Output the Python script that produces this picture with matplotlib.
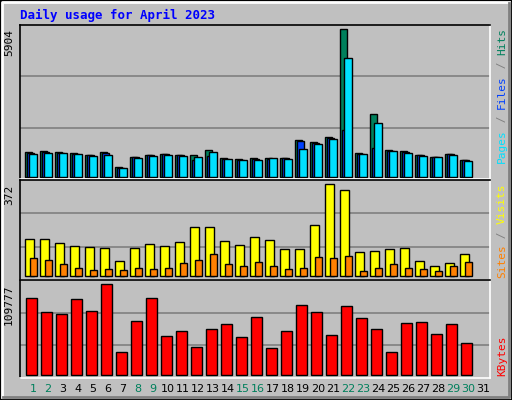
import matplotlib
matplotlib.use("Agg")
import matplotlib.pyplot as plt
import numpy as np
from matplotlib.patches import Rectangle

# ── data ──────────────────────────────────────────────────────────────────────
days = list(range(1, 31))
hits = [975, 1015, 975, 935, 868, 975, 374, 788, 868, 908, 868, 868, 1055, 735, 695,
        735, 735, 735, 1456, 1376, 1590, 5904, 935, 2498, 1055, 1015, 868, 788, 908, 668]
files = [955, 995, 965, 925, 858, 935, 364, 778, 858, 898, 858, 660, 828, 725, 685,
         725, 715, 735, 1416, 1336, 1560, 1870, 925, 1149, 1045, 1005, 858, 778, 898, 658]
pages = [895, 935, 935, 895, 828, 868, 334, 735, 828, 868, 828, 788, 975, 695, 655,
         655, 735, 695, 1095, 1296, 1496, 4743, 895, 2138, 1015, 935, 828, 788, 868, 615]
visits = [150, 150, 133, 121, 117, 113, 61, 113, 129, 121, 137, 198, 198, 142, 125,
          158, 146, 109, 109, 206, 372, 348, 97, 101, 109, 113, 61, 40, 53, 89]
sites = [73, 65, 49, 32, 24, 28, 24, 32, 28, 32, 53, 65, 89, 49, 40,
         57, 40, 28, 32, 77, 73, 81, 20, 32, 49, 32, 28, 20, 40, 57]
kbytes = [92890, 76000, 73580, 91680, 77200, 109777, 27740, 65140, 92890, 47050,
          53080, 33780, 55490, 61520, 45840, 69970, 32570, 53080, 84440, 76000,
          48250, 83230, 68760, 55490, 27740, 62730, 63930, 49460, 61520, 38600]
weekend = {1, 2, 8, 9, 15, 16, 22, 23, 29, 30}

W, H = 512, 400
BG = "#C0C0C0"
GREEN, BLUE, CYAN = "#00805C", "#0040FF", "#00E0FF"
YELLOW, ORANGE, RED = "#FFFF00", "#FF8000", "#FF0000"

fig = plt.figure(figsize=(W / 100, H / 100), dpi=100)
fig.patch.set_facecolor(BG)

# beveled border
def fpx(x, y):
    return x / W, 1 - y / H
fig.add_artist(Rectangle((0, 0), 1, 1, transform=fig.transFigure, fill=False,
                         edgecolor="black", lw=2))
fig.add_artist(plt.Line2D([2 / W, 2 / W, 1 - 3 / W], [3 / H, 1 - 2 / H, 1 - 2 / H],
                          transform=fig.transFigure, color="white", lw=2))
fig.add_artist(plt.Line2D([3 / W, 1 - 3 / W, 1 - 3 / W], [3 / H, 3 / H, 1 - 3 / H],
                          transform=fig.transFigure, color="#808080", lw=2))

X0, X1 = 20, 490
xlim = (0.133, 31.47)


def make_ax(ytop, ybot, base, mpx, vmax):
    ax = fig.add_axes([X0 / W, 1 - ybot / H, (X1 - X0) / W, (ybot - ytop) / H])
    ax.set_facecolor(BG)
    s = vmax / (base - mpx)
    ax.set_ylim(-(ybot - base) * s, (base - ytop) * s)
    ax.set_xlim(*xlim)
    for f in (1 / 3, 2 / 3):
        ax.plot([0, 1], [f, f], transform=ax.transAxes, color="#808080", lw=1.2, zorder=0)
    ax.set_xticks([]); ax.set_yticks([])
    for k in ("left", "top"):
        ax.spines[k].set_color("black")
    ax.spines["right"].set_color("white")
    ax.spines["bottom"].set_color("white")
    for sp in ax.spines.values():
        sp.set_linewidth(1.2)
    ax.text(-6 / (X1 - X0), 1 - (mpx - ytop) / (ybot - ytop), str(vmax),
            transform=ax.transAxes, rotation=90, ha="right", va="top",
            fontsize=8, family="DejaVu Sans Mono")
    return ax


def bars(ax, left, right, vals, color):
    d = np.array(days)
    ax.bar(d + left, vals, width=right - left, align="edge", color=color,
           edgecolor="black", lw=1, zorder=2)


ax1 = make_ax(25, 179, 176.7, 29.3, 5904)
bars(ax1, -0.51, -0.05, hits, GREEN)
bars(ax1, -0.40, 0.05, files, BLUE)
bars(ax1, -0.29, 0.25, pages, CYAN)

ax2 = make_ax(180, 280, 276.3, 184.3, 372)
bars(ax2, -0.51, 0.05, visits, YELLOW)
bars(ax2, -0.22, 0.25, sites, ORANGE)

ax3 = make_ax(280, 378, 375.3, 284.3, 109777)
bars(ax3, -0.44, 0.25, kbytes, RED)

# right-side legends (vertical, read bottom to top)
def vlegend(parts, y_px, va):
    x = 497 / W
    y = 1 - y_px / H
    txt = None
    for i, (s, c) in enumerate(parts):
        if i == 0:
            txt = fig.text(x, y, s, color=c, rotation=90, ha="left", va=va,
                           fontsize=8, family="DejaVu Sans Mono")
        else:
            txt = fig.text(0, 0, s, color=c, rotation=90, fontsize=8,
                           family="DejaVu Sans Mono",
                           transform=matplotlib.transforms.offset_copy(
                               txt.get_transform(), fig=fig, x=0, y=0),
                           )
    return txt

def vstack(parts, y_top_px):
    # draw from the top down: parts listed bottom-to-top
    fig.canvas.draw()
    r = fig.canvas.get_renderer()
    y = 1 - y_top_px / H
    for s, c in reversed(parts):
        t = fig.text(497 / W, y, s, color=c, rotation=90, ha="left", va="top",
                     fontsize=8, family="DejaVu Sans Mono")
        bb = t.get_window_extent(r)
        y -= bb.height / (H)
        y -= 0.0

vstack([("Pages", CYAN), (" / ", "#808080"), ("Files", BLUE), (" / ", "#808080"),
        ("Hits", GREEN)], 28)
vstack([("Sites", ORANGE), (" / ", "#808080"), ("Visits", YELLOW)], 184)
fig.text(497 / W, 1 - 376 / H, "KBytes", color=RED, rotation=90, ha="left",
         va="bottom", fontsize=8, family="DejaVu Sans Mono")

# day labels
for d in range(1, 32):
    x = (X0 + (d - xlim[0]) * 15) / W
    fig.text(x, 1 - 389 / H, str(d), ha="center", va="center", fontsize=8,
             color=GREEN if d in weekend else "black")

fig.text(20 / W, 1 - 15 / H, "Daily usage for April 2023", color="#0000FF",
         fontsize=9, fontweight="bold", family="DejaVu Sans Mono", va="center")

fig.savefig("out.png", dpi=100, facecolor=BG)
